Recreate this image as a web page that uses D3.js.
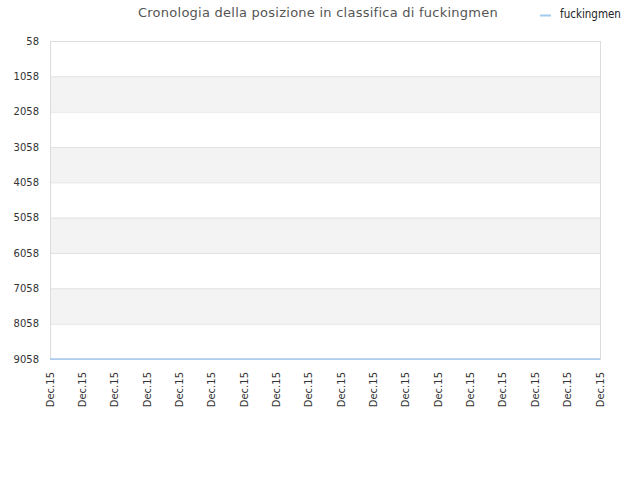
<!DOCTYPE html>
<html>
<head>
<meta charset="utf-8">
<script src="https://cdn.jsdelivr.net/npm/d3@7"></script>
<style>
  body { margin: 0; background: #fff; }
  text { font-family: "DejaVu Sans", sans-serif; }
</style>
</head>
<body>
<div id="chart"></div>
<script>
var dates = ["Dec.15","Dec.15","Dec.15","Dec.15","Dec.15","Dec.15","Dec.15","Dec.15","Dec.15",
             "Dec.15","Dec.15","Dec.15","Dec.15","Dec.15","Dec.15","Dec.15","Dec.15","Dec.15"];
var positions = [9058,9058,9058,9058,9058,9058,9058,9058,9058,
                 9058,9058,9058,9058,9058,9058,9058,9058,9058];
var yTicks = [58,1058,2058,3058,4058,5058,6058,7058,8058,9058];
var seriesName = "fuckingmen";
var chartTitle = "Cronologia della posizione in classifica di fuckingmen";

var margin = {top: 41, right: 40, bottom: 121, left: 50},
    width = 640 - margin.left - margin.right,
    height = 480 - margin.top - margin.bottom;

var svg = d3.select("#chart").append("svg")
    .attr("width", 640)
    .attr("height", 480);

var g = svg.append("g")
    .attr("transform", "translate(" + margin.left + "," + margin.top + ")");

var x = d3.scaleLinear().domain([0, dates.length - 1]).range([0, width]);
var y = d3.scaleLinear().domain([58, 9058]).range([0, height]);

// alternating bands
var bands = d3.pairs(yTicks);
g.selectAll(".band")
  .data(bands)
  .enter().append("rect")
  .attr("x", 0)
  .attr("width", width)
  .attr("y", function(d){ return y(d[0]); })
  .attr("height", function(d){ return y(d[1]) - y(d[0]); })
  .style("fill", function(d, i){ return i % 2 ? "#f3f3f3" : "#ffffff"; });

// grid lines
g.selectAll(".grid")
  .data(yTicks)
  .enter().append("line")
  .attr("x1", 0).attr("x2", width)
  .attr("y1", function(d){ return y(d) + 0.5; })
  .attr("y2", function(d){ return y(d) + 0.5; })
  .style("stroke", "#e2e2e2");

// frame
g.append("rect")
  .attr("x", 0.5).attr("y", 0.5)
  .attr("width", width).attr("height", height)
  .style("fill", "none")
  .style("stroke", "#dcdcdc");

// y labels
g.selectAll(".ylab")
  .data(yTicks)
  .enter().append("text")
  .attr("x", -11)
  .attr("y", function(d){ return y(d); })
  .attr("dy", "0.35em")
  .attr("text-anchor", "end")
  .style("font-size", "10px")
  .style("fill", "#333")
  .text(function(d){ return d; });

// x labels
g.selectAll(".xlab")
  .data(dates)
  .enter().append("text")
  .attr("transform", function(d, i){
    return "translate(" + (x(i) + 3.5) + "," + (height + 13) + ") rotate(-90)";
  })
  .attr("text-anchor", "end")
  .style("font-size", "10px")
  .style("fill", "#333")
  .text(function(d){ return d; });

var line = d3.line()
    .x(function(d, i){ return x(i); })
    .y(function(d){ return y(d); });

g.append("path")
  .datum(positions)
  .attr("d", line)
  .style("fill", "none")
  .style("stroke", "#a3c9ee")
  .style("stroke-width", 1.5);

// title
svg.append("text")
  .attr("x", 318)
  .attr("y", 17)
  .attr("text-anchor", "middle")
  .style("font-size", "13px")
  .style("letter-spacing", "0.25px")
  .style("fill", "#555")
  .text(chartTitle);

// legend
svg.append("line")
  .attr("x1", 540).attr("x2", 551)
  .attr("y1", 15.5).attr("y2", 15.5)
  .style("stroke", "#a3c9ee")
  .style("stroke-width", 2);
svg.append("text")
  .attr("x", 560)
  .attr("y", 18)
  .style("font-size", "11.5px")
  .style("font-family", "'DejaVu Sans Condensed', 'DejaVu Sans', sans-serif")
  .style("fill", "#222")
  .text(seriesName);
</script>
</body>
</html>
